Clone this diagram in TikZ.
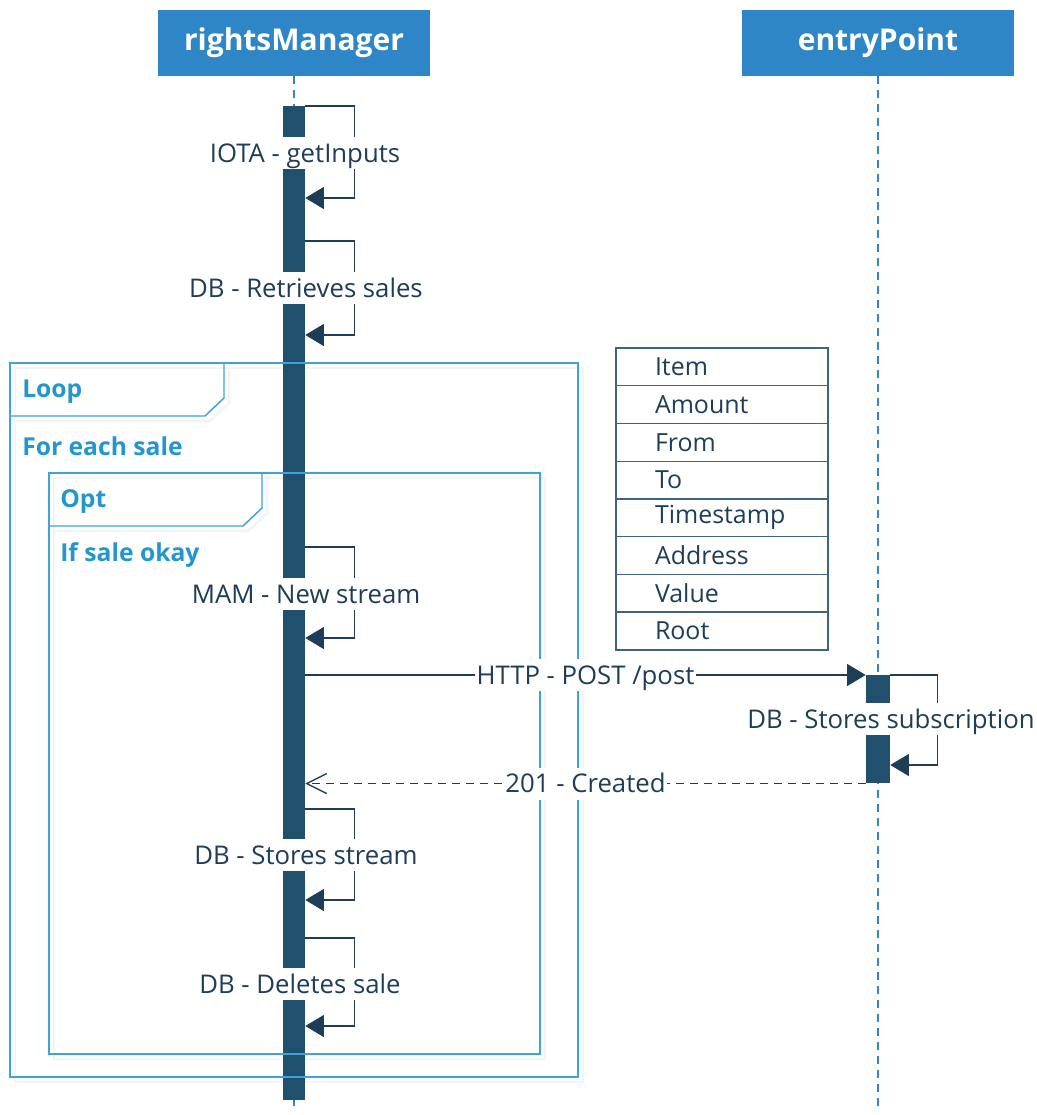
\documentclass[tikz,border=0pt]{standalone}
\usepackage{fontspec}
\setmainfont{Open Sans}
\usetikzlibrary{positioning, arrows.meta}

\definecolor{hdrblue}{HTML}{2E86C7}
\definecolor{barblue}{HTML}{21506E}
\definecolor{txtcol}{HTML}{1E3D58}
\definecolor{framecol}{HTML}{3BA4D8}
\definecolor{frametxt}{HTML}{2396CF}
\definecolor{shadecol}{HTML}{F0F5F9}
\definecolor{tablecol}{HTML}{3D6483}

\begin{document}
\begin{tikzpicture}[
    x=0.75pt, y=-0.75pt,
    % Styles
    head/.style={fill=hdrblue, text=white, font=\fontsize{22.5}{26}\selectfont\bfseries, minimum width=204pt, minimum height=49.5pt, inner sep=0pt},
    lifeline/.style={draw=hdrblue, line width=0.8pt, dash pattern=on 6pt off 4.5pt},
    bar/.style={fill=barblue, draw=none, inner sep=0pt, anchor=north},
    call/.style={draw=txtcol, line width=1pt, -{Triangle[length=14pt, width=16.5pt]}},
    reply/.style={draw=txtcol, line width=1pt, dash pattern=on 6pt off 4.5pt, -{Straight Barb[length=15pt, width=15pt]}},
    lbl/.style={fill=white, text=txtcol, font=\fontsize{19.3}{22}\selectfont, inner xsep=1pt, inner ysep=0pt, text height=19pt, text depth=5pt},
    frame/.style={draw=framecol, line width=1.1pt},
    shade/.style={draw=shadecol, line width=2.2pt},
    frametitle/.style={text=frametxt, font=\fontsize{18.5}{22}\selectfont\bfseries, anchor=west, inner sep=0pt},
    field/.style={draw=tablecol, line width=1pt, text=txtcol, font=\fontsize{18.7}{21}\selectfont, text width=100.5pt, inner xsep=29.25pt, inner ysep=0pt, minimum height=28.3pt, align=left, outer sep=0pt},
]
\useasboundingbox (0,0) rectangle (1037,1115);

% Participants
\node[head] (rm) at (294,43) {rightsManager};
\node[head] (ep) at (878,43) {entryPoint};
\coordinate (rmend) at (294,1110);
\coordinate (epend) at (878,1110);
\draw[lifeline] (rm.south) -- (rmend);
\draw[lifeline] (ep.south) -- (epend);

% Light shadow of the frames, behind the bars
\draw[shade, shift={(5,5)}] (10,363) rectangle (578,1077);
\draw[shade, shift={(5,5)}] (10,416) -- (205,416) -- (224,398) -- (224,363);
\draw[shade, shift={(5,5)}] (49,473) rectangle (540,1054);
\draw[shade, shift={(5,5)}] (49,526) -- (243,526) -- (262,508) -- (262,473);

% Activation bars
\node[bar, minimum width=16.5pt, minimum height=745.5pt] (rmbar) at (294,106) {};
\node[bar, minimum width=18pt, minimum height=81pt] (epbar) at (878,675) {};

% Loop and opt frames
\draw[frame] (10,363) rectangle (578,1077);
\draw[frame] (10,416) -- (205,416) -- (224,398) -- (224,363);
\draw[frame] (49,473) rectangle (540,1054);
\draw[frame] (49,526) -- (243,526) -- (262,508) -- (262,473);
\node[frametitle] (looptag) at (22,392) {Loop};
\node[frametitle] (loopcond) at (22,446) {For each sale};
\node[frametitle] (opttag) at (60,502) {Opt};
\node[frametitle] (optcond) at (60,555) {If sale okay};

% Self calls on rightsManager
\draw[call] (rmbar.east |- 0,106) -- ++(49,0) |- (rmbar.east |- 0,198);
\node[lbl] (m1) at (305,153) {IOTA - getInputs};
\draw[call] (rmbar.east |- 0,241) -- ++(49,0) |- (rmbar.east |- 0,335);
\node[lbl] (m2) at (306,288) {DB - Retrieves sales};
\draw[call] (rmbar.east |- 0,547) -- ++(49,0) |- (rmbar.east |- 0,638);
\node[lbl] (m3) at (306,594) {MAM - New stream};

% Request and reply
\draw[call] (rmbar.east |- epbar.north) -- (epbar.north west) node[lbl, midway] (m4) {HTTP - POST /post};
\draw[call] (epbar.north east) -- ++(47,0) |- (epbar.east |- 0,765);
\node[lbl] (m5) at (891,719) {DB - Stores subscription};
\draw[reply] (epbar.south west) -- (rmbar.east |- epbar.south) node[lbl, midway] (m6) {201 - Created};

% Storing and cleanup
\draw[call] (rmbar.east |- 0,809) -- ++(49,0) |- (rmbar.east |- 0,900);
\node[lbl] (m7) at (306,855) {DB - Stores stream};
\draw[call] (rmbar.east |- 0,938) -- ++(49,0) |- (rmbar.east |- 0,1026);
\node[lbl] (m8) at (300,984) {DB - Deletes sale};

% Data fields
\node[field, anchor=north west] (f1) at (616,348) {Item};
\node[field, below=0pt of f1] (f2) {Amount};
\node[field, below=0pt of f2] (f3) {From};
\node[field, below=0pt of f3] (f4) {To};
\node[field, below=0pt of f4] (f5) {Timestamp};
\node[field, below=0pt of f5] (f6) {Address};
\node[field, below=0pt of f6] (f7) {Value};
\node[field, below=0pt of f7] (f8) {Root};

\end{tikzpicture}
\end{document}
